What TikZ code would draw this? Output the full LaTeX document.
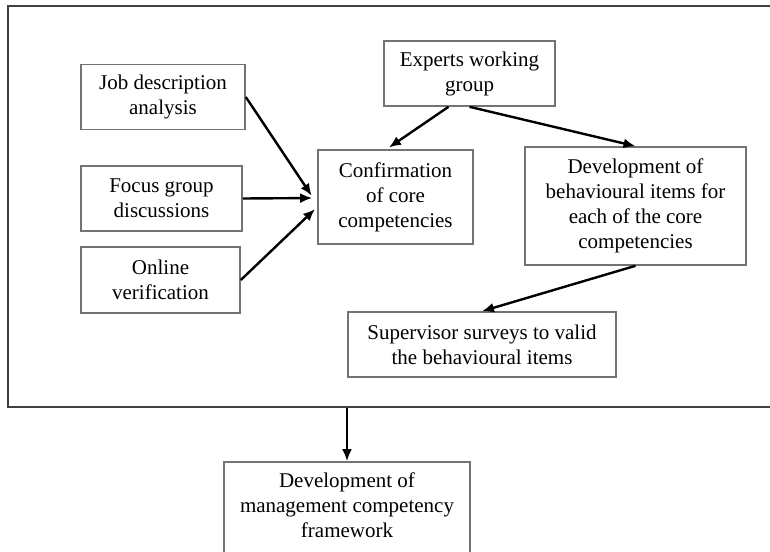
\documentclass[tikz,border=0pt]{standalone}
\usepackage{fontspec}
\setmainfont{Liberation Serif}
\usetikzlibrary{arrows.meta}
\tikzset{
  >={Latex[length=12pt,width=10pt]},
}
\tikzstyle{box}=[draw=black!55,line width=1.6pt,align=center,inner sep=0pt]
\tikzstyle{link}=[->,line width=2.4pt]
\tikzstyle{every node}=[font=\fontsize{21}{25}\selectfont]

\begin{document}
\begin{tikzpicture}[x=1pt,y=-1pt]
    \useasboundingbox (0,0) rectangle (770,551);
    \clip (0,0) rectangle (770,551);
    % outer frame
    \node[draw=black!75,line width=2.4pt,minimum width=772pt,minimum height=401pt] (frame) at (394,206.5) {};
    % left column
    \node[box,minimum width=164pt,minimum height=65pt] (job) at (163,97) {Job description\\analysis};
    \node[box,minimum width=161pt,minimum height=65pt] (focus) at (161.5,198.5) {Focus group\\discussions};
    \node[box,minimum width=159pt,minimum height=66pt] (online) at (160.5,280) {Online\\verification};
    % middle and right
    \node[box,minimum width=155pt,minimum height=94pt] (conf) at (395.5,197) {Confirmation\\of core\\competencies};
    \node[box,minimum width=171pt,minimum height=65pt] (experts) at (469.5,73.5) {Experts working\\group};
    \node[box,minimum width=221pt,minimum height=118pt] (items) at (635.5,206) {Development of\\behavioural items for\\each of the core\\competencies};
    \node[box,minimum width=268pt,minimum height=65pt] (survey) at (482,344.5) {Supervisor surveys to valid\\the behavioural items};
    % outcome (runs off the bottom edge)
    \node[box,minimum width=246pt,minimum height=108pt,text depth=22pt] (framework) at (347,516) {Development of\\management competency\\framework};
    % arrows
    \draw[link,shorten >=10pt] (job.east) -- ([yshift=-7pt]conf.west);
    \draw[link,shorten >=5pt] (focus.east) -- ([yshift=-1pt]conf.west);
    \draw[link,shorten >=3pt] (online.east) -- ([yshift=-10pt]conf.west);
    \draw[link,shorten >=3pt] ([xshift=-21pt]experts.south) -- ([xshift=-9pt]conf.north);
    \draw[link] (experts.south) -- (items.north);
    \draw[link] (items.south) -- (survey.north);
    \draw[link] (framework.north |- frame.south) -- (framework.north);
  \end{tikzpicture}
\end{document}
